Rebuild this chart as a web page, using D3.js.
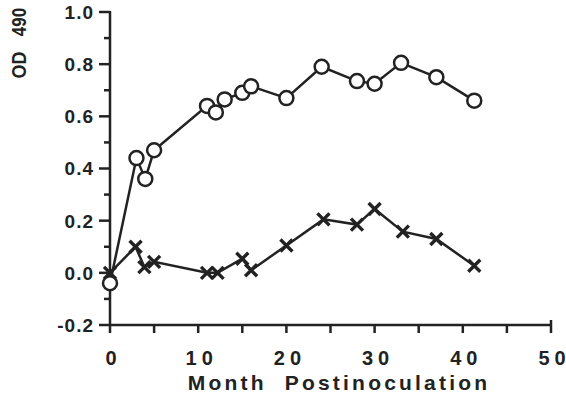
<!DOCTYPE html>
<html>
<head>
<meta charset="utf-8">
<script src="https://cdn.jsdelivr.net/npm/d3@7"></script>
<style>
  body { margin: 0; background: #fff; }
  text { font-family: "Liberation Sans", Arial, sans-serif; font-weight: bold; fill: #222; }
</style>
</head>
<body>
<div id="chart"></div>
<script>
// months postinoculation and OD 490 readings
const circleMonths = [0, 3, 4, 5, 11, 12, 13, 15, 16, 20, 24, 28, 30, 33, 37, 41.3];
const circleValues = [-0.04, 0.44, 0.36, 0.47, 0.64, 0.615, 0.665, 0.69, 0.715, 0.67, 0.79, 0.735, 0.725, 0.805, 0.75, 0.66];
const crossMonths = [0, 2.9, 3.9, 5, 11, 12.2, 15, 16, 20, 24.2, 28, 30, 33.2, 37, 41.3];
const crossValues = [0.0, 0.1, 0.022, 0.042, 0.0, 0.0, 0.054, 0.01, 0.105, 0.205, 0.185, 0.245, 0.158, 0.13, 0.027];
const xMajorTicks = [0, 10, 20, 30, 40, 50];
const yMajorTicks = [-0.2, 0.0, 0.2, 0.4, 0.6, 0.8, 1.0];

const svgWidth = 566, svgHeight = 398;
const margin = { top: 12, right: 15, bottom: 73, left: 110 };
const ink = "#222";

const svg = d3.select("#chart").append("svg")
  .attr("width", svgWidth)
  .attr("height", svgHeight);

const x = d3.scaleLinear().domain([0, 50]).range([margin.left, svgWidth - margin.right]);
const y = d3.scaleLinear().domain([-0.2, 1.0]).range([svgHeight - margin.bottom, margin.top]);

// y axis: minor every 0.1, major every 0.2
const yAxis = svg.append("g").attr("transform", "translate(" + margin.left + ",0)");
yAxis.append("line")
  .attr("y1", y(1.0) - 1).attr("y2", y(-0.2))
  .attr("stroke", ink).attr("stroke-width", 2.5);
yAxis.selectAll(".ytick")
  .data(d3.range(-2, 11).map(d => d / 10))
  .enter().append("line")
  .attr("x1", d => (Math.round(d * 10) % 2 === 0) ? -11 : -6)
  .attr("x2", 0)
  .attr("y1", d => y(d)).attr("y2", d => y(d))
  .attr("stroke", ink).attr("stroke-width", 2.5);
yAxis.selectAll(".ylabel")
  .data(yMajorTicks)
  .enter().append("text")
  .attr("x", -16)
  .attr("y", d => y(d))
  .attr("dy", "0.36em")
  .attr("text-anchor", "end")
  .attr("font-size", 19)
  .attr("letter-spacing", "1px")
  .text(d => d3.format(".1f")(d).replace("−", "-"));

// x axis: ticks every 5
const xAxis = svg.append("g").attr("transform", "translate(0," + y(-0.2) + ")");
xAxis.append("line")
  .attr("x1", x(0) - 1).attr("x2", x(50) + 1)
  .attr("stroke", ink).attr("stroke-width", 2.5);
xAxis.selectAll(".xtick")
  .data(d3.range(0, 55, 5))
  .enter().append("line")
  .attr("x1", d => x(d)).attr("x2", d => x(d))
  .attr("y1", 0).attr("y2", 8)
  .attr("stroke", ink).attr("stroke-width", 2.5);
xAxis.append("line")
  .attr("x1", x(50)).attr("x2", x(50))
  .attr("y1", -5).attr("y2", 0)
  .attr("stroke", ink).attr("stroke-width", 2.5);
// wide-spaced digits, no trailing gap
xAxis.selectAll(".xlabel")
  .data(xMajorTicks)
  .enter().append("text")
  .attr("x", d => x(d) + 1)
  .attr("y", 40)
  .attr("text-anchor", "middle")
  .attr("font-size", 20)
  .each(function (d) {
    const chars = String(d).split("");
    d3.select(this).selectAll("tspan")
      .data(chars)
      .enter().append("tspan")
      .attr("dx", (c, i) => i === 0 ? 0 : 5)
      .text(c => c);
  });

svg.append("text")
  .attr("x", 339)
  .attr("y", 390)
  .attr("text-anchor", "middle")
  .attr("font-size", 21)
  .attr("letter-spacing", "3.2px")
  .attr("xml:space", "preserve")
  .text("Month  Postinoculation");

// y title, rotated and condensed
svg.append("text")
  .attr("transform", "translate(26,22) rotate(-90) scale(0.85,1)")
  .attr("text-anchor", "middle")
  .attr("font-size", 20)
  .text("490");
svg.append("text")
  .attr("transform", "translate(26,65) rotate(-90) scale(0.9,1)")
  .attr("text-anchor", "middle")
  .attr("font-size", 20)
  .text("OD");

const line = d3.line().x(d => x(d[0])).y(d => y(d[1]));
const circleData = circleMonths.map((m, i) => [m, circleValues[i]]);
const crossData = crossMonths.map((m, i) => [m, crossValues[i]]);

svg.append("path")
  .datum(crossData)
  .attr("d", line)
  .attr("fill", "none").attr("stroke", ink).attr("stroke-width", 2.5);

svg.append("path")
  .datum(circleData)
  .attr("d", line)
  .attr("fill", "none").attr("stroke", ink).attr("stroke-width", 2.5);

svg.selectAll(".cross")
  .data(crossData)
  .enter().append("path")
  .attr("transform", d => "translate(" + x(d[0]) + "," + y(d[1]) + ")")
  .attr("d", "M-6,-6L6,6M-6,6L6,-6")
  .attr("stroke", ink).attr("stroke-width", 3.4).attr("fill", "none");

svg.selectAll(".circle")
  .data(circleData)
  .enter().append("circle")
  .attr("cx", d => x(d[0]))
  .attr("cy", d => y(d[1]))
  .attr("r", 7)
  .attr("fill", "#fff")
  .attr("stroke", ink).attr("stroke-width", 2.5);
</script>
</body>
</html>
